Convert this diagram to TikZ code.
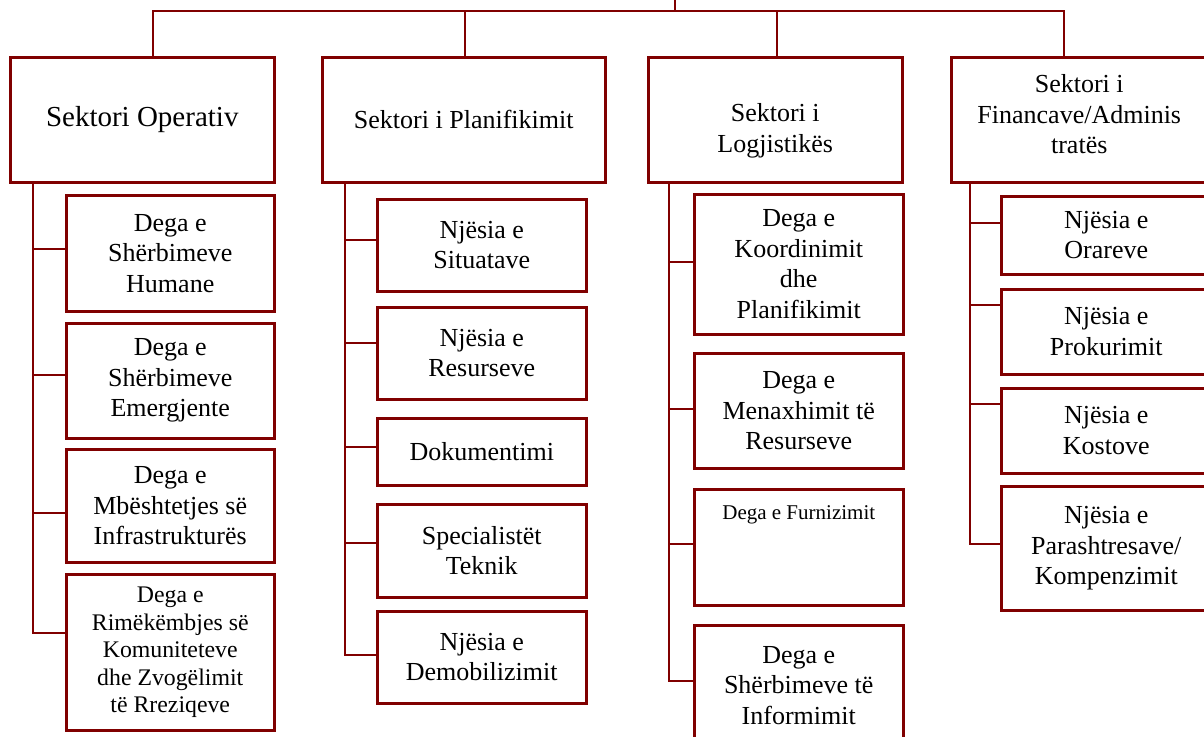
\documentclass[tikz,border=0pt]{standalone}
\usepackage{fontspec}
\setmainfont{Liberation Serif}
\definecolor{dred}{RGB}{128,0,0}
\begin{document}
\begin{tikzpicture}[x=1pt,y=-1pt,
  box/.style 2 args={draw=dred,line width=2.5pt,anchor=north west,inner sep=0pt,align=center,text=black,minimum width=#1pt,minimum height=#2pt},
  conn/.style={draw=dred,line width=2.5pt},
  fbig/.style={font=\fontsize{29}{33}\selectfont},
  fmain/.style={font=\fontsize{26}{30.5}\selectfont},
  fsmall/.style={font=\fontsize{23.8}{27.5}\selectfont},
  ftiny/.style={font=\fontsize{21}{24}\selectfont}]
\useasboundingbox (0,0) rectangle (1204,736);
\clip (0,0) rectangle (1204,736);

% sector boxes
\node[box={264}{125},fbig] (s1) at (9,56) {Sektori Operativ};
\node[box={283}{125},fmain] (s2) at (321,56) {Sektori i Planifikimit};
\node[box={254}{125},fmain] (s3) at (647,56) {\rule{0pt}{40pt}Sektori i\\Logjistikës};
\node[box={256}{125},fmain] (s4) at (950,56) {Sektori i\\Financave/Adminis\\tratës\rule[-11pt]{0pt}{11pt}};

% column 1
\node[box={208}{116},fmain] (a1) at (65,194) {Dega e\\Shërbimeve\\Humane};
\node[box={208}{115},fmain] (a2) at (65,322) {Dega e\\Shërbimeve\\Emergjente};
\node[box={208}{113},fmain] (a3) at (65,448) {Dega e\\Mbështetjes së\\Infrastrukturës};
\node[box={208}{156},fsmall] (a4) at (65,573) {Dega e\\Rimëkëmbjes së\\Komuniteteve\\dhe Zvogëlimit\\të Rreziqeve};
\fill[white] (68.5,717.5) rectangle (269.5,727);

% column 2
\node[box={209}{92},fmain] (b1) at (376,198) {Njësia e\\Situatave};
\node[box={209}{92},fmain] (b2) at (376,306) {Njësia e\\Resurseve};
\node[box={209}{67},fmain] (b3) at (376,417) {Dokumentimi};
\node[box={209}{93},fmain] (b4) at (376,503) {Specialistët\\Teknik};
\node[box={209}{92},fmain] (b5) at (376,610) {Njësia e\\Demobilizimit};

% column 3
\node[box={209}{140},fmain] (c1) at (693,193) {Dega e\\Koordinimit\\dhe\\Planifikimit};
\node[box={209}{115},fmain] (c2) at (693,352) {Dega e\\Menaxhimit të\\Resurseve};
\node[box={209}{116},ftiny] (c3) at (693,488) {Dega e Furnizimit\rule[-68.5pt]{0pt}{68.5pt}};
\node[box={209}{120},fmain] (c4) at (693,624) {Dega e\\Shërbimeve të\\Informimit};

% column 4
\node[box={210}{78},fmain] (d1) at (1000,195) {Njësia e\\Orareve};
\node[box={210}{85},fmain] (d2) at (1000,288) {Njësia e\\Prokurimit};
\node[box={210}{85},fmain] (d3) at (1000,387) {Njësia e\\Kostove};
\node[box={210}{124},fmain] (d4) at (1000,485) {Njësia e\\Parashtresave/\\Kompenzimit};

% top connectors
\coordinate (root) at (675,0);
\coordinate (tm) at (675,11);
\coordinate (t1) at (153,11);
\coordinate (t2) at (465,11);
\coordinate (t3) at (777,11);
\coordinate (t4) at (1064,11);
\draw[conn] (root) -- (tm);
\draw[conn] (t1 |- s1.north) -- (t1) -- (t4) -- (t4 |- s4.north);
\draw[conn] (t2) -- (t2 |- s2.north);
\draw[conn] (t3) -- (t3 |- s3.north);

% column 1 connectors
\coordinate (k11) at (33,249);
\coordinate (k12) at (33,375);
\coordinate (k13) at (33,513);
\coordinate (k14) at (33,633);
\draw[conn] (s1.south -| k14) -- (k14) -- (k14 -| a4.west);
\draw[conn] (k11) -- (k11 -| a1.west);
\draw[conn] (k12) -- (k12 -| a2.west);
\draw[conn] (k13) -- (k13 -| a3.west);

% column 2 connectors
\coordinate (k21) at (345,240);
\coordinate (k22) at (345,343);
\coordinate (k23) at (345,447);
\coordinate (k24) at (345,543);
\coordinate (k25) at (345,655);
\draw[conn] (s2.south -| k25) -- (k25) -- (k25 -| b5.west);
\draw[conn] (k21) -- (k21 -| b1.west);
\draw[conn] (k22) -- (k22 -| b2.west);
\draw[conn] (k23) -- (k23 -| b3.west);
\draw[conn] (k24) -- (k24 -| b4.west);

% column 3 connectors
\coordinate (k31) at (669,262);
\coordinate (k32) at (669,409);
\coordinate (k33) at (669,544);
\coordinate (k34) at (669,681);
\draw[conn] (s3.south -| k34) -- (k34) -- (k34 -| c4.west);
\draw[conn] (k31) -- (k31 -| c1.west);
\draw[conn] (k32) -- (k32 -| c2.west);
\draw[conn] (k33) -- (k33 -| c3.west);

% column 4 connectors
\coordinate (k41) at (970,223);
\coordinate (k42) at (970,305);
\coordinate (k43) at (970,404);
\coordinate (k44) at (970,544);
\draw[conn] (s4.south -| k44) -- (k44) -- (k44 -| d4.west);
\draw[conn] (k41) -- (k41 -| d1.west);
\draw[conn] (k42) -- (k42 -| d2.west);
\draw[conn] (k43) -- (k43 -| d3.west);
\end{tikzpicture}
\end{document}
